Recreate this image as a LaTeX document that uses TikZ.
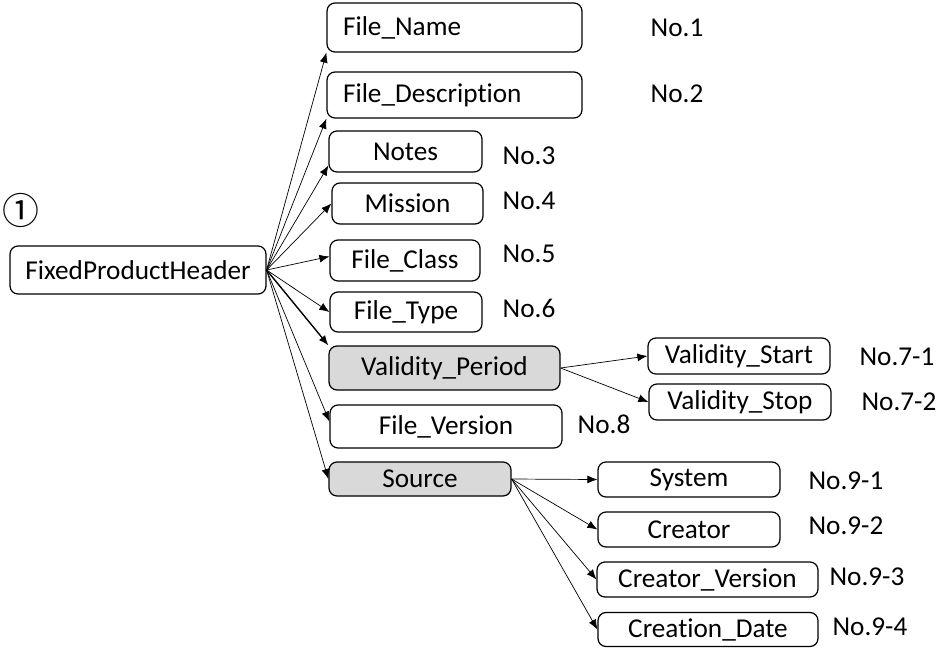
\documentclass[tikz,border=0pt]{standalone}
\usepackage{fontspec}
\setmainfont{Carlito}[Ligatures=NoCommon, Contextuals=NoAlternate]
\newfontfamily\cjk{Noto Sans CJK JP}
\usetikzlibrary{arrows.meta}

\begin{document}
\begin{tikzpicture}[x=0.02cm, y=-0.02cm,
    field/.style={rectangle, draw=black, line width=0.7pt, rounded corners=0.16cm, fill=white, inner sep=0pt, font=\fontsize{15.5}{18}\selectfont},
    group/.style={field, fill=gray!30},
    leftfield/.style={field, align=left, inner xsep=0.32cm},
    num/.style={font=\fontsize{15.5}{18}\selectfont},
    arrow/.style={-{Latex[length=2mm, width=1.6mm]}, line width=0.4pt}
]
\useasboundingbox (0,0) rectangle (941,647);

% Root
\node[font=\fontsize{21}{24}\selectfont\cjk] (mark) at (21, 210) {①};
\node[field, minimum width=5.12cm, minimum height=0.96cm] (root) at (138, 270) {FixedProductHeader};

% First level
\node[leftfield, text width=4.46cm, minimum height=0.98cm] (name) at (454.5, 27.5) {File\_Name};
\node[leftfield, text width=4.46cm, minimum height=0.92cm] (desc) at (454.5, 95) {File\_Description};
\node[field, minimum width=3.06cm, minimum height=0.82cm] (notes) at (405.5, 151.5) {Notes};
\node[field, minimum width=3.02cm, minimum height=0.82cm] (mission) at (407.5, 203.5) {Mission};
\node[field, minimum width=3.00cm, minimum height=0.82cm] (class) at (405, 260.5) {File\_Class};
\node[field, minimum width=3.04cm, minimum height=0.80cm] (type) at (406, 312) {File\_Type};
\node[group, minimum width=4.62cm, minimum height=0.88cm] (period) at (444.5, 368) {Validity\_Period};
\node[field, minimum width=4.64cm, minimum height=0.86cm] (version) at (446, 426.5) {File\_Version};
\node[group, minimum width=3.64cm, minimum height=0.68cm] (source) at (420, 479) {Source};

% Second level
\node[field, minimum width=3.64cm, minimum height=0.72cm] (start) at (739, 356) {Validity\_Start};
\node[field, minimum width=3.64cm, minimum height=0.72cm] (stop) at (740, 402) {Validity\_Stop};
\node[field, minimum width=3.64cm, minimum height=0.70cm] (system) at (689, 479.5) {System};
\node[field, minimum width=3.64cm, minimum height=0.70cm] (creator) at (689, 529.5) {Creator};
\node[field, minimum width=4.42cm, minimum height=0.70cm] (cversion) at (707.5, 579.5) {Creator\_Version};
\node[field, minimum width=4.40cm, minimum height=0.68cm] (cdate) at (708, 629.5) {Creation\_Date};

% Numbers
\node[num] (n1) at (677, 28) {No.1};
\node[num] (n2) at (677, 94) {No.2};
\node[num] (n3) at (529, 156) {No.3};
\node[num] (n4) at (529, 201) {No.4};
\node[num] (n5) at (529, 254) {No.5};
\node[num] (n6) at (529, 308) {No.6};
\node[num] (n71) at (897, 357) {No.7-1};
\node[num] (n72) at (899, 402) {No.7-2};
\node[num] (n8) at (604, 424) {No.8};
\node[num] (n91) at (846, 481) {No.9-1};
\node[num] (n92) at (846, 526) {No.9-2};
\node[num] (n93) at (867, 577) {No.9-3};
\node[num] (n94) at (870, 627) {No.9-4};

% Arrows from root
\draw[arrow] (root.east) -- (name.south west);
\draw[arrow] (root.east) -- (desc.south west);
\draw[arrow] (root.east) -- ([yshift=-0.28cm]notes.west);
\draw[arrow] (root.east) -- (mission.west);
\draw[arrow] (root.east) -- ([yshift=0.08cm]class.west);
\draw[arrow] (root.east) -- (type.west);
\draw[arrow, line width=0.8pt] (root.east) -- (period.north west);
\draw[arrow] (root.east) -- ([yshift=0.1cm]version.west);
\draw[arrow] (root.east) -- (source.west);

% Arrows to second level
\draw[arrow] (period.east) -- (start.west);
\draw[arrow] (period.east) -- (stop.west);
\draw[arrow] (source.east) -- (system.west);
\draw[arrow] (source.east) -- (creator.west);
\draw[arrow] (source.east) -- (cversion.west);
\draw[arrow] (source.east) -- (cdate.west);

\end{tikzpicture}
\end{document}
